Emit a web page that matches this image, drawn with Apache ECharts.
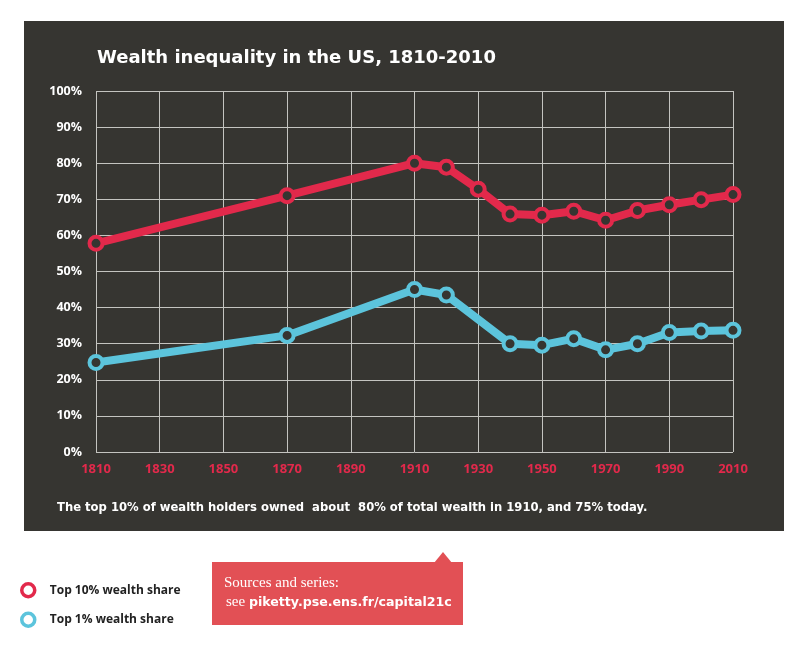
<!DOCTYPE html>
<html>
<head>
<meta charset="utf-8">
<script src="https://cdn.jsdelivr.net/npm/echarts@6/dist/echarts.min.js"></script>
<style>
  html, body { margin: 0; padding: 0; background: #fff; }
  #chart { width: 800px; height: 645px; }
</style>
</head>
<body>
<div id="chart"></div>
<script>
const years = [1810, 1870, 1910, 1920, 1930, 1940, 1950, 1960, 1970, 1980, 1990, 2000, 2010];
const top10 = [57.8, 71.0, 80.0, 78.9, 72.8, 65.9, 65.6, 66.7, 64.2, 66.9, 68.5, 69.9, 71.3];
const top1 = [24.8, 32.3, 45.0, 43.5, null, 30.0, 29.6, 31.4, 28.3, 30.0, 33.1, 33.5, 33.7];

const RED = '#e2294b';
const BLUE = '#5cc4dc';
const PANEL = '#363531';
const FONT = '"Open Sans", sans-serif';
const WIDE = '"DejaVu Sans", sans-serif';
const SERIF = '"Liberation Serif", "DejaVu Serif", serif';

const chart = echarts.init(document.getElementById('chart'), null, { renderer: 'canvas' });

const seriesOf = (name, values, color) => ({
  name,
  type: 'line',
  connectNulls: true,
  data: years.map((y, i) => [y, values[i]]),
  symbol: 'circle',
  symbolSize: 13,
  lineStyle: { width: 8, color },
  itemStyle: { color: PANEL, borderColor: color, borderWidth: 4 },
  emphasis: { disabled: true },
  z: 3
});

chart.setOption({
  backgroundColor: '#ffffff',
  animation: false,
  textStyle: { fontFamily: FONT },
  title: [
    {
      text: 'Wealth inequality in the US, 1810-2010',
      left: 92,
      top: 44,
      textStyle: { color: '#ffffff', fontSize: 18, fontWeight: 'bold', fontFamily: WIDE }
    },
    {
      text: 'The top 10% of wealth holders owned  about  80% of total wealth in 1910, and 75% today.',
      left: 52,
      top: 497,
      textStyle: { color: '#ffffff', fontSize: 11.6, fontWeight: 'bold', fontFamily: WIDE }
    }
  ],
  legend: {
    orient: 'vertical',
    left: 15,
    top: 577,
    itemGap: 13,
    itemWidth: 13,
    itemHeight: 13,
    textStyle: { color: '#222', fontSize: 12, fontWeight: 'bold', fontFamily: FONT, padding: [0, 0, 0, 10] },
    data: [
      { name: 'Top 10% wealth share', icon: 'circle', itemStyle: { color: '#ffffff', borderColor: RED, borderWidth: 3.5 } },
      { name: 'Top 1% wealth share', icon: 'circle', itemStyle: { color: '#ffffff', borderColor: BLUE, borderWidth: 3.5 } }
    ]
  },
  grid: { left: 96, right: 67, top: 91, bottom: 193 },
  xAxis: {
    type: 'value',
    min: 1810,
    max: 2010,
    interval: 20,
    axisLine: { show: false },
    axisTick: { show: false },
    axisLabel: { color: RED, fontSize: 13, fontWeight: 'bold', margin: 11, fontFamily: FONT, formatter: v => String(v) },
    splitLine: { lineStyle: { color: '#c4c4c0', width: 1 } }
  },
  yAxis: {
    type: 'value',
    min: 0,
    max: 100,
    interval: 10,
    axisLine: { show: false },
    axisTick: { show: false },
    axisLabel: { color: '#ffffff', fontSize: 12.5, fontWeight: 'bold', margin: 14, formatter: '{value}%', fontFamily: FONT },
    splitLine: { lineStyle: { color: '#c4c4c0', width: 1 } }
  },
  graphic: [
    {
      type: 'rect',
      z: -10,
      shape: { x: 24, y: 21, width: 760, height: 510 },
      style: { fill: PANEL }
    },
    {
      type: 'polygon',
      z: 1,
      shape: { points: [[434, 563], [443, 552], [452, 563]] },
      style: { fill: '#e25055' }
    },
    {
      type: 'rect',
      z: 1,
      shape: { x: 212, y: 562, width: 251, height: 63 },
      style: { fill: '#e25055' }
    },
    {
      type: 'text',
      z: 2,
      left: 224,
      top: 576,
      style: {
        text: 'Sources and series:',
        fill: '#ffffff',
        font: '15px ' + SERIF
      }
    },
    {
      type: 'text',
      z: 2,
      left: 226,
      top: 595,
      style: {
        text: '{s|see }{b|piketty.pse.ens.fr/capital21c}',
        rich: {
          s: { fill: '#ffffff', fontSize: 15, fontFamily: SERIF },
          b: { fill: '#ffffff', fontSize: 12.6, fontWeight: 'bold', fontFamily: WIDE }
        }
      }
    }
  ],
  series: [
    seriesOf('Top 10% wealth share', top10, RED),
    seriesOf('Top 1% wealth share', top1, BLUE)
  ]
});
</script>
</body>
</html>
